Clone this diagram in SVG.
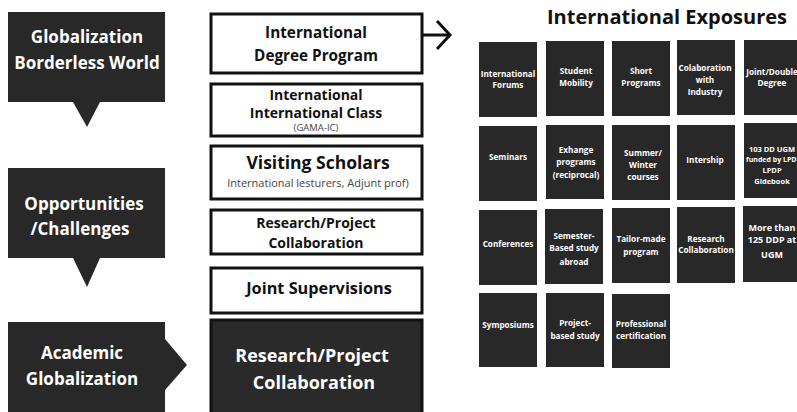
<svg xmlns="http://www.w3.org/2000/svg" width="797" height="412" viewBox="0 0 797 412">
  <style>
    .dark { fill: #282828; }
    .box { fill: #ffffff; stroke: #111111; stroke-width: 3; }
    .boxd { fill: #2a2a2a; stroke: #111111; stroke-width: 3; }
    text { font-family: "Open Sans", "Liberation Sans", sans-serif; text-anchor: middle; }
    .lt { fill: #ffffff; font-weight: 700; font-size: 17px; }
    .mt { fill: #111111; font-weight: 700; }
    .sub { fill: #444444; font-weight: 400; }
    .ct { fill: #ffffff; font-weight: 700; font-size: 8.2px; }
    .ct.xs { font-size: 7.5px; }
    .ct.fine { font-size: 7px; text-anchor: start; }
    .ct.lg { font-size: 9px; }
    .title { fill: #111111; font-weight: 700; font-size: 20px; }
    .conn { fill: none; stroke: #111111; stroke-width: 3; }
  </style>

  <!-- left column: call-out shapes -->
  <g id="globalization">
    <path class="dark" d="M8,12 H165 V102 H100 L87,127 L73,102 H8 Z"/>
    <text class="lt" x="87" y="43">Globalization</text>
    <text class="lt" x="87" y="69">Borderless World</text>
  </g>
  <g id="opportunities">
    <path class="dark" d="M8,168 H165 V258 H100 L87,287 L73,258 H8 Z"/>
    <text class="lt" x="84" y="210">Opportunities</text>
    <text class="lt" x="80" y="235">/Challenges</text>
  </g>
  <g id="academic">
    <path class="dark" d="M8,322 H165 V339 L187,365 L165,390 V412 H8 Z"/>
    <text class="lt" x="82" y="359">Academic</text>
    <text class="lt" x="82" y="385">Globalization</text>
  </g>

  <!-- middle column: programme boxes -->
  <g id="degree-program">
    <rect class="box" x="211" y="14" width="211" height="59"/>
    <text class="mt" x="316" y="38" font-size="15.3">International</text>
    <text class="mt" x="316" y="61" font-size="15.3">Degree Program</text>
  </g>
  <g id="international-class">
    <rect class="box" x="211" y="84" width="211" height="52"/>
    <text class="mt" x="316" y="100" font-size="14">International</text>
    <text class="mt" x="316" y="118" font-size="14">International Class</text>
    <text class="sub" x="316" y="131" font-size="9.5">(GAMA-IC)</text>
  </g>
  <g id="visiting-scholars">
    <rect class="box" x="211" y="146" width="211" height="53"/>
    <text class="mt" x="318" y="169" font-size="17.5">Visiting Scholars</text>
    <text class="sub" x="318" y="187" font-size="11">International lesturers, Adjunt prof)</text>
  </g>
  <g id="research-collab">
    <rect class="box" x="211" y="210" width="211" height="44"/>
    <text class="mt" x="316" y="228" font-size="14">Research/Project</text>
    <text class="mt" x="316" y="248" font-size="14">Collaboration</text>
  </g>
  <g id="joint-supervisions">
    <rect class="box" x="211" y="268" width="211" height="45"/>
    <text class="mt" x="319" y="294" font-size="16.3">Joint Supervisions</text>
  </g>
  <g id="research-collab-main">
    <rect class="boxd" x="211" y="320" width="211" height="95"/>
    <text x="312" y="362" font-size="18" font-weight="700" fill="#ffffff">Research/Project</text>
    <text x="314" y="389" font-size="18" font-weight="700" fill="#ffffff">Collaboration</text>
  </g>

  <!-- connectors -->
  <g id="connectors">
    <line class="conn" x1="422" y1="35" x2="449" y2="35"/>
    <polyline class="conn" points="437,21 450,35 437,49"/>
  </g>

  <!-- right side: exposures grid -->
  <g id="exposures-title">
    <text class="title" x="667" y="24">International Exposures</text>
  </g>

  <g id="card-international-forums">
    <rect class="dark" x="479" y="42" width="58" height="75"/>
    <text class="ct" x="508" y="77">International</text>
    <text class="ct" x="508" y="88">Forums</text>
  </g>
  <g id="card-student-mobility">
    <rect class="dark" x="546" y="41" width="58" height="75"/>
    <text class="ct" x="576" y="74">Student</text>
    <text class="ct" x="576" y="86">Mobility</text>
  </g>
  <g id="card-short-programs">
    <rect class="dark" x="612" y="41" width="58" height="75"/>
    <text class="ct" x="641" y="74">Short</text>
    <text class="ct" x="641" y="86">Programs</text>
  </g>
  <g id="card-collab-industry">
    <rect class="dark" x="677" y="40" width="58" height="75"/>
    <text class="ct" x="705" y="71">Colaboration</text>
    <text class="ct" x="705" y="83">with</text>
    <text class="ct" x="705" y="95">Industry</text>
  </g>
  <g id="card-joint-double">
    <rect class="dark" x="744" y="40" width="58" height="75"/>
    <text class="ct" x="772" y="75">Joint/Double</text>
    <text class="ct" x="772" y="86">Degree</text>
  </g>

  <g id="card-seminars">
    <rect class="dark" x="479" y="126" width="58" height="75"/>
    <text class="ct" x="508" y="160">Seminars</text>
  </g>
  <g id="card-exchange">
    <rect class="dark" x="546" y="125" width="58" height="74"/>
    <text class="ct" x="576" y="153">Exhange</text>
    <text class="ct" x="576" y="165">programs</text>
    <text class="ct" x="576" y="178">(reciprocal)</text>
  </g>
  <g id="card-summer-winter">
    <rect class="dark" x="612" y="125" width="58" height="75"/>
    <text class="ct" x="643" y="156">Summer/</text>
    <text class="ct" x="643" y="168">Winter</text>
    <text class="ct" x="643" y="180">courses</text>
  </g>
  <g id="card-internship">
    <rect class="dark" x="677" y="125" width="58" height="75"/>
    <text class="ct" x="705" y="163">Intership</text>
  </g>
  <g id="card-dd-ugm">
    <rect class="dark" x="744" y="123" width="58" height="75"/>
    <text class="ct xs" x="772" y="152">103 DD UGM</text>
    <text class="ct fine" x="746" y="162">funded by LPDP</text>
    <text class="ct xs" x="772" y="173">LPDP</text>
    <text class="ct xs" x="772" y="184">Gidebook</text>
  </g>

  <g id="card-conferences">
    <rect class="dark" x="479" y="210" width="58" height="75"/>
    <text class="ct" x="508" y="247">Conferences</text>
  </g>
  <g id="card-semester-abroad">
    <rect class="dark" x="545" y="209" width="58" height="75"/>
    <text class="ct" x="574" y="239">Semester-</text>
    <text class="ct" x="574" y="251">Based study</text>
    <text class="ct" x="574" y="265">abroad</text>
  </g>
  <g id="card-tailor-made">
    <rect class="dark" x="612" y="208" width="58" height="75"/>
    <text class="ct" x="641" y="242">Tailor-made</text>
    <text class="ct" x="641" y="255">program</text>
  </g>
  <g id="card-research-collab">
    <rect class="dark" x="677" y="207" width="58" height="76"/>
    <text class="ct" x="706" y="242">Research</text>
    <text class="ct" x="706" y="253">Collaboration</text>
  </g>
  <g id="card-ddp-ugm">
    <rect class="dark" x="743" y="206" width="58" height="76"/>
    <text class="ct lg" x="772" y="231">More than</text>
    <text class="ct lg" x="772" y="243">125 DDP at</text>
    <text class="ct lg" x="772" y="258">UGM</text>
  </g>

  <g id="card-symposiums">
    <rect class="dark" x="479" y="293" width="58" height="74"/>
    <text class="ct" x="508" y="328">Symposiums</text>
  </g>
  <g id="card-project-based">
    <rect class="dark" x="546" y="293" width="58" height="74"/>
    <text class="ct" x="575" y="326">Project-</text>
    <text class="ct" x="575" y="339">based study</text>
  </g>
  <g id="card-professional-cert">
    <rect class="dark" x="612" y="294" width="58" height="74"/>
    <text class="ct" x="641" y="327">Professional</text>
    <text class="ct" x="641" y="339">certification</text>
  </g>
</svg>
